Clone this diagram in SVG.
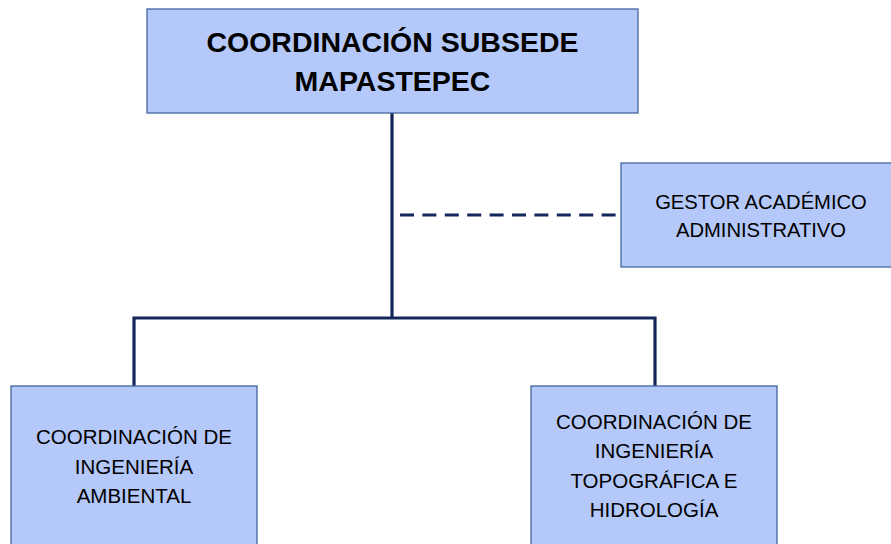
<svg xmlns="http://www.w3.org/2000/svg" width="891" height="544" viewBox="0 0 891 544">
<style>
.box{fill:#b4c8fa;stroke:#41669c;stroke-width:1.3}
.t{font-family:"Liberation Sans",Arial,sans-serif;fill:#000;text-anchor:middle}
.title{font-size:28.5px;font-weight:bold}
.lbl{font-size:20.5px}
.g{font-size:20.2px}
.c{fill:none;stroke:#13275a;stroke-width:3.2}
.d{fill:none;stroke:#13275a;stroke-width:3.2;stroke-dasharray:14 8.4}
</style>
<rect width="891" height="544" fill="#fff"/>
<g id="connectors">
<path class="c" d="M392 113 V318"/>
<path class="c" d="M134 386 V318 H655 V386"/>
<path class="d" d="M400 215 H616"/>
</g>
<g id="coordinacion-subsede">
<rect class="box" x="147" y="9" width="491" height="104"/>
<text class="t title" x="392.5" y="52">COORDINACIÓN SUBSEDE</text>
<text class="t title" x="392.5" y="91">MAPASTEPEC</text>
</g>
<g id="gestor">
<rect class="box" x="621" y="163" width="280" height="104"/>
<text class="t g" x="761" y="209">GESTOR ACADÉMICO</text>
<text class="t g" x="761" y="237">ADMINISTRATIVO</text>
</g>
<g id="ing-ambiental">
<rect class="box" x="11" y="386" width="246" height="170"/>
<text class="t lbl" x="134" y="444">COORDINACIÓN DE</text>
<text class="t lbl" x="134" y="474">INGENIERÍA</text>
<text class="t lbl" x="134" y="503">AMBIENTAL</text>
</g>
<g id="ing-topografica">
<rect class="box" x="531" y="386" width="246" height="170"/>
<text class="t lbl" x="654" y="429">COORDINACIÓN DE</text>
<text class="t lbl" x="654" y="458">INGENIERÍA</text>
<text class="t lbl" x="654" y="488">TOPOGRÁFICA E</text>
<text class="t lbl" x="654" y="517">HIDROLOGÍA</text>
</g>
</svg>
